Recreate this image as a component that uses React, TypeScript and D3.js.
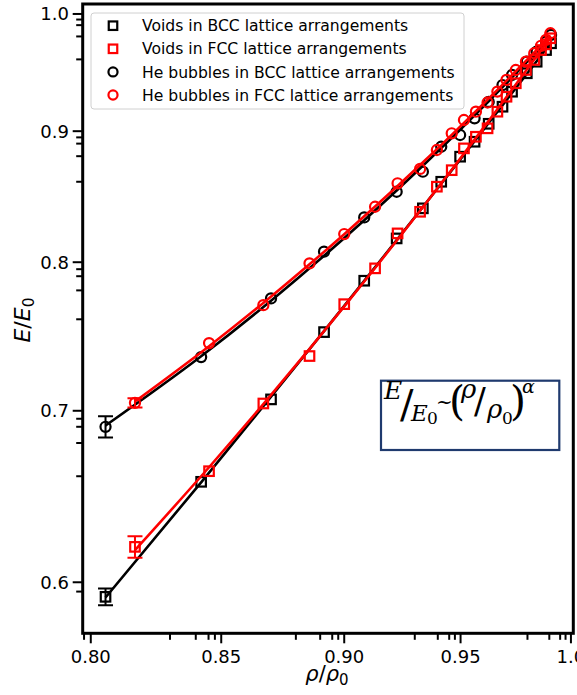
import React from "react";
import * as d3 from "d3";

// relative density for the two lattice types
const bccRho = [0.8055, 0.8421, 0.8699, 0.8916, 0.9084, 0.9222, 0.9335, 0.9415, 0.9498, 0.9562, 0.9625, 0.9687, 0.973, 0.9797, 0.9842, 0.9885, 0.9908];
const fccRho = [0.8166, 0.8452, 0.8668, 0.8856, 0.9, 0.913, 0.9226, 0.9323, 0.9396, 0.9461, 0.9515, 0.9568, 0.962, 0.9664, 0.9705, 0.9747, 0.9793, 0.9831, 0.9862, 0.9885, 0.9905];

// E/E0 values
const voidsBcc = [0.5922, 0.6567, 0.7072, 0.7513, 0.7868, 0.8173, 0.8397, 0.86, 0.8796, 0.8915, 0.906, 0.92, 0.9325, 0.9481, 0.958, 0.9681, 0.974];
const voidsFcc = [0.6194, 0.663, 0.7046, 0.7353, 0.7704, 0.7956, 0.821, 0.8371, 0.8562, 0.869, 0.8862, 0.8955, 0.9023, 0.9159, 0.9283, 0.9396, 0.9509, 0.9595, 0.9681, 0.973, 0.9784];
const bubblesBcc = [0.69, 0.7346, 0.7744, 0.8076, 0.8329, 0.8523, 0.8678, 0.8875, 0.8969, 0.9105, 0.924, 0.9381, 0.9466, 0.958, 0.9667, 0.9754, 0.9813];
const bubblesFcc = [0.705, 0.7439, 0.7697, 0.7992, 0.8205, 0.8409, 0.8588, 0.87, 0.8849, 0.8983, 0.9091, 0.9159, 0.9235, 0.9326, 0.9424, 0.9509, 0.958, 0.9653, 0.9718, 0.977, 0.9828];

// error bar on the lowest-density point of each series
const firstErr = [0.0045, 0.006, 0.0066, 0.003];

const seriesNames = [
  "Voids in BCC lattice arrangements",
  "Voids in FCC lattice arrangements",
  "He bubbles in BCC lattice arrangements",
  "He bubbles in FCC lattice arrangements",
];

const xMajor = [0.8, 0.85, 0.9, 0.95, 1.0];
const xMajorLabels = ["0.80", "0.85", "0.90", "0.95", "1.0"];
const xMinor = [0.7975, 0.83, 0.84, 0.845, 0.8475, 0.88, 0.89, 0.895, 0.8975, 0.93, 0.94, 0.945, 0.9475, 0.98, 0.99, 0.995, 0.9975];
const yMajor = [0.6, 0.7, 0.8, 0.9, 1.0];
const yMajorLabels = ["0.6", "0.7", "0.8", "0.9", "1.0"];
const yMinor = [0.595, 0.66, 0.68, 0.69, 0.695, 0.76, 0.78, 0.79, 0.795, 0.86, 0.88, 0.89, 0.895, 0.96, 0.98, 0.99, 0.995];

const W = 577;
const H = 695;
const plot = { left: 82.7, right: 573.3, top: 4, bottom: 633.3 };

const x = d3.scaleLog().domain([0.797, 1.0011]).range([plot.left, plot.right]);
const y = d3.scaleLog().domain([0.5731, 1.009]).range([plot.bottom, plot.top]);

const series = [
  { name: seriesNames[0], rho: bccRho, e: voidsBcc, err: firstErr[0], color: "#000000", marker: "square" },
  { name: seriesNames[1], rho: fccRho, e: voidsFcc, err: firstErr[1], color: "#ff0000", marker: "square" },
  { name: seriesNames[2], rho: bccRho, e: bubblesBcc, err: firstErr[2], color: "#000000", marker: "circle" },
  { name: seriesNames[3], rho: fccRho, e: bubblesFcc, err: firstErr[3], color: "#ff0000", marker: "circle" },
];
// black ones first, red ones drawn over them
const drawOrder = [0, 2, 1, 3];

const font = "'DejaVu Sans', sans-serif";
const mathFont = "'DejaVu Serif', serif";

// least-squares quadratic in log-log space, evaluated at the measured densities
function fitLogLog(xs, ys) {
  const t = xs.map(Math.log);
  const u = ys.map(Math.log);
  const S = [0, 0, 0, 0, 0];
  const R = [0, 0, 0];
  t.forEach((ti, i) => {
    let p = 1;
    for (let k = 0; k < 5; k++) {
      S[k] += p;
      if (k < 3) R[k] += p * u[i];
      p *= ti;
    }
  });
  const A = [
    [S[0], S[1], S[2], R[0]],
    [S[1], S[2], S[3], R[1]],
    [S[2], S[3], S[4], R[2]],
  ];
  for (let c = 0; c < 3; c++) {
    for (let r = c + 1; r < 3; r++) {
      const f = A[r][c] / A[c][c];
      for (let k = c; k < 4; k++) A[r][k] -= f * A[c][k];
    }
  }
  const coef = [0, 0, 0];
  for (let r = 2; r >= 0; r--) {
    let s = A[r][3];
    for (let k = r + 1; k < 3; k++) s -= A[r][k] * coef[k];
    coef[r] = s / A[r][r];
  }
  return t.map((ti) => Math.exp(coef[0] + coef[1] * ti + coef[2] * ti * ti));
}

function Marker({ cx, cy, kind, color, size = 9.5 }) {
  if (kind === "square") {
    return <rect x={cx - size / 2} y={cy - size / 2} width={size} height={size} fill="none" stroke={color} strokeWidth={2.2} />;
  }
  return <circle cx={cx} cy={cy} r={size / 2 + 0.3} fill="none" stroke={color} strokeWidth={2.2} />;
}

function Series({ s }) {
  const fit = fitLogLog(s.rho, s.e);
  const line = d3.line<number>().x((d, i) => x(s.rho[i])).y((d) => y(d)).curve(d3.curveMonotoneX);
  const x0 = x(s.rho[0]);
  const yTop = y(s.e[0] + s.err);
  const yBot = y(s.e[0] - s.err);
  return (
    <g>
      <path d={line(fit) || ""} fill="none" stroke={s.color} strokeWidth={2.6} />
      <g stroke={s.color} strokeWidth={2}>
        <line x1={x0} x2={x0} y1={yTop} y2={yBot} />
        <line x1={x0 - 7.5} x2={x0 + 7.5} y1={yTop} y2={yTop} />
        <line x1={x0 - 7.5} x2={x0 + 7.5} y1={yBot} y2={yBot} />
      </g>
      {s.e.map((v, i) => (
        <Marker key={i} cx={x(s.rho[i])} cy={y(v)} kind={s.marker} color={s.color} />
      ))}
    </g>
  );
}

export default function App() {
  return (
    <svg width={W} height={H} style={{ position: "absolute", left: 0, top: 0, background: "#fff" }}>
      <defs>
        <clipPath id="plotClip">
          <rect x={plot.left} y={plot.top} width={plot.right - plot.left} height={plot.bottom - plot.top} />
        </clipPath>
      </defs>
      <rect x={0} y={0} width={W} height={H} fill="#fff" />

      <g clipPath="url(#plotClip)">
        {drawOrder.map((k) => (
          <Series key={k} s={series[k]} />
        ))}
      </g>

      {/* ticks */}
      <g stroke="#000" strokeWidth={2}>
        {xMajor.map((v) => (
          <line key={"xM" + v} x1={x(v)} x2={x(v)} y1={plot.bottom} y2={plot.bottom + 10} />
        ))}
        {xMinor.map((v) => (
          <line key={"xm" + v} x1={x(v)} x2={x(v)} y1={plot.bottom} y2={plot.bottom + 6.5} />
        ))}
        {yMajor.map((v) => (
          <line key={"yM" + v} x1={plot.left - 10} x2={plot.left} y1={y(v)} y2={y(v)} />
        ))}
        {yMinor.map((v) => (
          <line key={"ym" + v} x1={plot.left - 6.5} x2={plot.left} y1={y(v)} y2={y(v)} />
        ))}
      </g>
      <g fontFamily={font} fontSize={18} fill="#000">
        {xMajor.map((v, i) => (
          <text key={"xl" + v} x={x(v)} y={663} textAnchor="middle">
            {xMajorLabels[i]}
          </text>
        ))}
        {yMajor.map((v, i) => (
          <text key={"yl" + v} x={69} y={y(v) + 6.4} textAnchor="end">
            {yMajorLabels[i]}
          </text>
        ))}
      </g>

      {/* frame */}
      <rect x={plot.left} y={plot.top} width={plot.right - plot.left} height={plot.bottom - plot.top} fill="none" stroke="#000" strokeWidth={3} />

      {/* axis labels */}
      <text x={327} y={681} textAnchor="middle" fontFamily={font} fontSize={21}>
        <tspan fontStyle="italic">ρ</tspan>
        <tspan>/</tspan>
        <tspan fontStyle="italic">ρ</tspan>
        <tspan fontSize={15} dy={4}>0</tspan>
      </text>
      <text transform="translate(30,320) rotate(-90)" textAnchor="middle" fontFamily={font} fontSize={22}>
        <tspan fontStyle="italic">E</tspan>
        <tspan>/</tspan>
        <tspan fontStyle="italic">E</tspan>
        <tspan fontSize={15.5} dy={4}>0</tspan>
      </text>

      {/* legend */}
      <rect x={91} y={13} width={373} height={96} rx={3} fill="#fff" fillOpacity={0.85} stroke="#d0d0d0" strokeWidth={1} />
      {series.map((s, i) => (
        <g key={"lg" + i}>
          <Marker cx={113} cy={25.7 + i * 23.1} kind={s.marker} color={s.color} size={8.5} />
          <text x={142} y={31.3 + i * 23.1} fontFamily={font} fontSize={15.6} fill="#000">
            {s.name}
          </text>
        </g>
      ))}

      {/* formula box */}
      <rect x={381} y={380.7} width={178.3} height={69.3} fill="#fff" stroke="#1f3a6e" strokeWidth={2.2} />
      <text fontFamily={mathFont} fill="#000">
        <tspan x={384} y={399} fontSize={25} fontStyle="italic">E</tspan>
        <tspan x={400} y={418} fontSize={40}>/</tspan>
        <tspan x={411} y={421} fontSize={23} fontStyle="italic">E</tspan>
        <tspan x={427} y={424} fontSize={17}>0</tspan>
        <tspan x={436} y={409} fontSize={20}>~</tspan>
        <tspan x={449} y={414.6} fontSize={41}>(</tspan>
        <tspan x={461} y={398} fontSize={26} fontStyle="italic">ρ</tspan>
        <tspan x={474} y={413.4} fontSize={35}>/</tspan>
        <tspan x={487} y={418} fontSize={26} fontStyle="italic">ρ</tspan>
        <tspan x={502} y={424} fontSize={17}>0</tspan>
        <tspan x={510} y={414.6} fontSize={41}>)</tspan>
        <tspan x={522} y={393} fontSize={19} fontStyle="italic">α</tspan>
      </text>
    </svg>
  );
}
